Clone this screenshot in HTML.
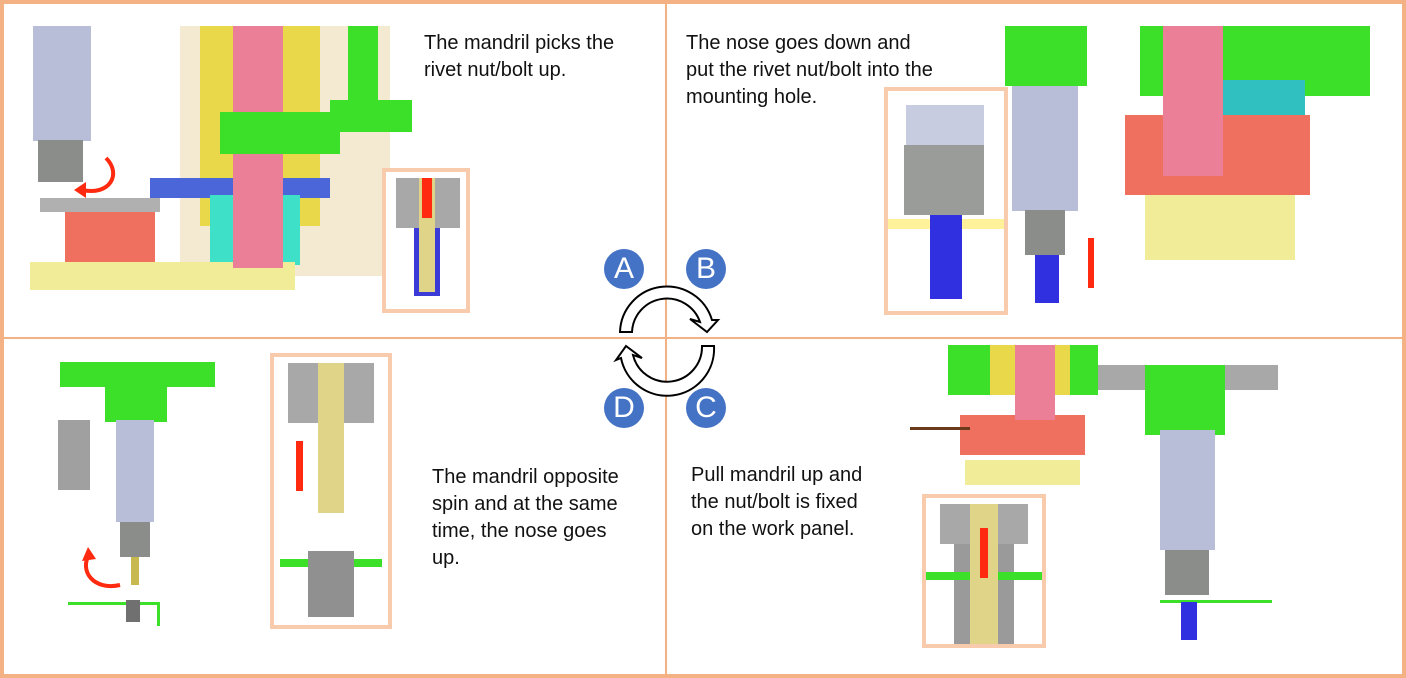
<!DOCTYPE html>
<html><head><meta charset="utf-8"><style>
*{margin:0;padding:0;box-sizing:border-box}
body{width:1406px;height:678px;background:#fff;position:relative;overflow:hidden;font-family:"Liberation Sans",sans-serif}
.a{position:absolute}
.t{position:absolute;font-size:20px;line-height:27px;color:#111}
.c{position:absolute;width:40px;height:40px;border-radius:50%;background:#4472c4;color:#fff;font-size:30px;line-height:40px;text-align:center}
.box{position:absolute;border:4px solid #f8cbad;background:#fff}
</style></head><body>
<div class="a" style="left:0;top:0;width:1406px;height:678px;border:4px solid #f4b183"></div>
<div class="a" style="left:665px;top:0;width:2px;height:678px;background:#f4b183"></div>
<div class="a" style="left:0;top:337px;width:1406px;height:2px;background:#f4b183"></div>

<!-- Panel A -->
<div class="a" style="left:180px;top:26px;width:210px;height:250px;background:#f4ead2"></div>
<div class="a" style="left:200px;top:26px;width:120px;height:200px;background:#e8d84a"></div>
<div class="a" style="left:33px;top:26px;width:58px;height:115px;background:#b8bdd8"></div>
<div class="a" style="left:38px;top:140px;width:45px;height:42px;background:#8a8d8a"></div>
<div class="a" style="left:150px;top:178px;width:180px;height:20px;background:#4a66d8"></div>
<div class="a" style="left:210px;top:195px;width:90px;height:70px;background:#3ee0c8"></div>
<div class="a" style="left:65px;top:200px;width:90px;height:62px;background:#f07060"></div>
<div class="a" style="left:40px;top:198px;width:120px;height:14px;background:#b0b0b0"></div>
<div class="a" style="left:30px;top:262px;width:265px;height:28px;background:#f0ec98"></div>
<div class="a" style="left:233px;top:26px;width:50px;height:242px;background:#ec7f98"></div>
<div class="a" style="left:220px;top:112px;width:120px;height:42px;background:#3ce028"></div>
<div class="a" style="left:330px;top:100px;width:82px;height:32px;background:#3ce028"></div>
<div class="a" style="left:348px;top:26px;width:30px;height:80px;background:#3ce028"></div>
<svg class="a" style="left:70px;top:150px" width="50" height="50"><path d="M36 8 C52 24 40 46 12 40" fill="none" stroke="#ff2a10" stroke-width="4"/><path d="M4 40 L16 32 L16 48 Z" fill="#ff2a10"/></svg>
<div class="t" style="left:424px;top:30px">The mandril picks the<br>rivet nut/bolt up.</div>
<div class="box" style="left:382px;top:168px;width:88px;height:145px">
<div class="a" style="left:10px;top:6px;width:64px;height:50px;background:#a8a8a8"></div>
<div class="a" style="left:28px;top:56px;width:26px;height:68px;background:#3b3bd8"></div>
<div class="a" style="left:33px;top:6px;width:16px;height:114px;background:#e0d488"></div>
<div class="a" style="left:36px;top:6px;width:10px;height:40px;background:#ff2a10"></div>
</div>

<!-- Panel B -->
<div class="t" style="left:686px;top:30px">The nose goes down and<br>put the rivet nut/bolt into the<br>mounting hole.</div>
<div class="a" style="left:1005px;top:26px;width:82px;height:60px;background:#3ce028"></div>
<div class="a" style="left:1012px;top:86px;width:66px;height:125px;background:#b8bdd8"></div>
<div class="a" style="left:1025px;top:210px;width:40px;height:45px;background:#8a8d8a"></div>
<div class="a" style="left:1035px;top:255px;width:24px;height:48px;background:#3030e0"></div>
<div class="a" style="left:1088px;top:238px;width:6px;height:50px;background:#ff2a10"></div>
<div class="a" style="left:1140px;top:26px;width:230px;height:70px;background:#3ce028"></div>
<div class="a" style="left:1215px;top:80px;width:90px;height:50px;background:#30c0c0"></div>
<div class="a" style="left:1145px;top:190px;width:150px;height:70px;background:#f0ec98"></div>
<div class="a" style="left:1125px;top:115px;width:185px;height:80px;background:#f07060"></div>
<div class="a" style="left:1163px;top:26px;width:60px;height:150px;background:#ec7f98"></div>
<div class="box" style="left:884px;top:87px;width:124px;height:228px">
<div class="a" style="left:18px;top:14px;width:78px;height:40px;background:#c8cce0"></div>
<div class="a" style="left:16px;top:54px;width:80px;height:70px;background:#9a9c9a"></div>
<div class="a" style="left:0;top:128px;width:116px;height:10px;background:#fff29a"></div>
<div class="a" style="left:42px;top:124px;width:32px;height:84px;background:#3030e0"></div>
</div>

<!-- Panel D -->
<div class="a" style="left:60px;top:362px;width:155px;height:25px;background:#3ce028"></div>
<div class="a" style="left:105px;top:362px;width:62px;height:60px;background:#3ce028"></div>
<div class="a" style="left:58px;top:420px;width:32px;height:70px;background:#a0a0a0"></div>
<div class="a" style="left:116px;top:420px;width:38px;height:102px;background:#b8bdd8"></div>
<div class="a" style="left:120px;top:522px;width:30px;height:35px;background:#8a8d8a"></div>
<div class="a" style="left:131px;top:557px;width:8px;height:28px;background:#c8b850"></div>
<div class="a" style="left:68px;top:602px;width:92px;height:3px;background:#3ce028"></div>
<div class="a" style="left:157px;top:602px;width:3px;height:24px;background:#3ce028"></div>
<div class="a" style="left:126px;top:600px;width:14px;height:22px;background:#707070"></div>
<svg class="a" style="left:80px;top:545px" width="50" height="50"><path d="M10 8 C-2 26 14 46 40 40" fill="none" stroke="#ff2a10" stroke-width="4"/><path d="M8 2 L2 16 L16 14 Z" fill="#ff2a10"/></svg>
<div class="box" style="left:270px;top:353px;width:122px;height:276px">
<div class="a" style="left:14px;top:6px;width:86px;height:60px;background:#a8a8a8"></div>
<div class="a" style="left:44px;top:6px;width:26px;height:150px;background:#e0d488"></div>
<div class="a" style="left:22px;top:84px;width:7px;height:50px;background:#ff2a10"></div>
<div class="a" style="left:6px;top:202px;width:102px;height:8px;background:#3ce028"></div>
<div class="a" style="left:34px;top:194px;width:46px;height:66px;background:#909090"></div>
</div>
<div class="t" style="left:432px;top:464px">The mandril opposite<br>spin and at the same<br>time, the nose goes<br>up.</div>

<!-- Panel C -->
<div class="a" style="left:948px;top:345px;width:150px;height:50px;background:#3ce028"></div>
<div class="a" style="left:990px;top:345px;width:80px;height:50px;background:#e8d84a"></div>
<div class="a" style="left:960px;top:415px;width:125px;height:40px;background:#f07060"></div>
<div class="a" style="left:965px;top:460px;width:115px;height:25px;background:#f0ec98"></div>
<div class="a" style="left:1015px;top:345px;width:40px;height:75px;background:#ec7f98"></div>
<div class="a" style="left:910px;top:427px;width:60px;height:3px;background:#6a3a1a"></div>
<div class="a" style="left:1098px;top:365px;width:180px;height:25px;background:#a8a8a8"></div>
<div class="a" style="left:1145px;top:365px;width:80px;height:70px;background:#3ce028"></div>
<div class="a" style="left:1160px;top:430px;width:55px;height:120px;background:#b8bdd8"></div>
<div class="a" style="left:1165px;top:550px;width:44px;height:45px;background:#8a8d8a"></div>
<div class="a" style="left:1160px;top:600px;width:112px;height:3px;background:#3ce028"></div>
<div class="a" style="left:1181px;top:602px;width:16px;height:38px;background:#3030e0"></div>
<div class="box" style="left:922px;top:494px;width:124px;height:154px">
<div class="a" style="left:14px;top:6px;width:88px;height:40px;background:#a8a8a8"></div>
<div class="a" style="left:28px;top:46px;width:60px;height:100px;background:#9a9a9a"></div>
<div class="a" style="left:0;top:74px;width:116px;height:8px;background:#3ce028"></div>
<div class="a" style="left:44px;top:6px;width:28px;height:140px;background:#e0d488"></div>
<div class="a" style="left:54px;top:30px;width:8px;height:50px;background:#ff2a10"></div>
</div>
<div class="t" style="left:691px;top:462px">Pull mandril up and<br>the nut/bolt is fixed<br>on the work panel.</div>

<!-- center -->
<svg class="a" style="left:600px;top:270px" width="130" height="140" viewBox="0 0 130 140">
<path d="M20,62 A47,47 0 0 1 112,50 L118,50 L107,62 L90,49 L100,52 A35,35 0 0 0 32,62 Z" fill="#fff" stroke="#000" stroke-width="2" stroke-linejoin="miter"/>
<path d="M114,76 A47,47 0 0 1 21,88 L16,90 L26,76 L42,88 L33,85 A35,35 0 0 0 102,76 Z" fill="#fff" stroke="#000" stroke-width="2"/>
</svg>
<div class="c" style="left:604px;top:249px">A</div>
<div class="c" style="left:686px;top:249px">B</div>
<div class="c" style="left:604px;top:388px">D</div>
<div class="c" style="left:686px;top:388px">C</div>
</body></html>
